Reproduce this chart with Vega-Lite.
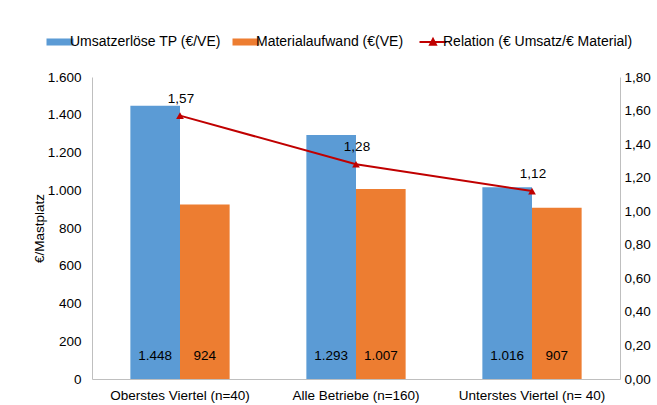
{
  "$schema": "https://vega.github.io/schema/vega-lite/v6.json",
  "autosize": {"type": "none"},
  "width": 528,
  "height": 302,
  "padding": {"left": 92, "top": 77, "right": 37, "bottom": 26},
  "background": "white",
  "config": {
    "locale": {"number": {"decimal": ",", "thousands": ".", "grouping": [3], "currency": ["", " €"]}},
    "font": "Liberation Sans",
    "view": {"stroke": null},
    "axis": {"labelFont": "Liberation Sans", "titleFont": "Liberation Sans", "labelFontSize": 13.5, "labelColor": "#000000", "domainColor": "#BFBFBF", "ticks": false, "grid": false, "labelOverlap": false}
  },
  "datasets": {
    "bars": [
      {"cat": "Oberstes Viertel (n=40)", "series": "Umsatzerlöse TP (€/VE)", "value": 1448},
      {"cat": "Oberstes Viertel (n=40)", "series": "Materialaufwand (€(VE)", "value": 924},
      {"cat": "Alle Betriebe (n=160)", "series": "Umsatzerlöse TP (€/VE)", "value": 1293},
      {"cat": "Alle Betriebe (n=160)", "series": "Materialaufwand (€(VE)", "value": 1007},
      {"cat": "Unterstes Viertel (n= 40)", "series": "Umsatzerlöse TP (€/VE)", "value": 1016},
      {"cat": "Unterstes Viertel (n= 40)", "series": "Materialaufwand (€(VE)", "value": 907}
    ],
    "line": [
      {"cat": "Oberstes Viertel (n=40)", "series": "Relation (€ Umsatz/€ Material)", "rel": 1.57},
      {"cat": "Alle Betriebe (n=160)", "series": "Relation (€ Umsatz/€ Material)", "rel": 1.28},
      {"cat": "Unterstes Viertel (n= 40)", "series": "Relation (€ Umsatz/€ Material)", "rel": 1.12}
    ]
  },
  "encoding": {
    "x": {
      "field": "cat", "type": "nominal", "sort": null,
      "scale": {"domain": ["Oberstes Viertel (n=40)", "Alle Betriebe (n=160)", "Unterstes Viertel (n= 40)"], "paddingInner": 0.436, "paddingOuter": 0.218},
      "axis": {"title": null, "labelAngle": 0, "labelPadding": 9, "domainColor": "#BFBFBF"}
    }
  },
  "layer": [
    {
      "data": {"name": "bars"},
      "encoding": {
        "xOffset": {"field": "series", "type": "nominal", "sort": null, "scale": {"domain": ["Umsatzerlöse TP (€/VE)", "Materialaufwand (€(VE)"], "paddingInner": 0, "paddingOuter": 0}},
        "y": {"field": "value", "type": "quantitative", "scale": {"domain": [0, 1600], "nice": false}, "axis": {"title": "€/Mastplatz", "titleFontSize": 13.5, "titleFontWeight": "normal", "titleColor": "#000000", "values": [0,200,400,600,800,1000,1200,1400,1600], "format": ",d", "labelPadding": 11, "titlePadding": 1, "domainColor": "#BFBFBF"}}
      },
      "layer": [
        {
          "mark": {"type": "bar"},
          "encoding": {
            "color": {
              "field": "series", "type": "nominal",
              "scale": {"domain": ["Umsatzerlöse TP (€/VE)", "Materialaufwand (€(VE)", "Relation (€ Umsatz/€ Material)"], "range": ["#5B9BD5", "#ED7D31", "#C00000"]},
              "legend": {
                "title": null, "orient": "none", "direction": "horizontal", "legendX": -39, "legendY": -42,
                "labelFont": "Liberation Sans", "labelFontSize": 14, "labelColor": "#000000", "labelLimit": 300,
                "symbolSize": 729, "symbolType": "M-1,-0.26H1V0.26H-1Z", "labelOffset": 3, "columnPadding": 11,
                "encode": {"symbols": {"update": {
                  "shape": {"signal": "datum.value === 'Relation (€ Umsatz/€ Material)' ? 'M-1,0H1M-0.22,0.2L0,-0.22L0.22,0.2Z' : 'M-1,-0.26H1V0.26H-1Z'"},
                  "strokeWidth": {"signal": "datum.value === 'Relation (€ Umsatz/€ Material)' ? 2 : 0"},
                  "stroke": {"signal": "datum.value === 'Relation (€ Umsatz/€ Material)' ? '#C00000' : 'transparent'"},
                  "fill": {"signal": "datum.value === 'Relation (€ Umsatz/€ Material)' ? '#C00000' : (datum.value === 'Materialaufwand (€(VE)' ? '#ED7D31' : '#5B9BD5')"},
                  "opacity": {"value": 1}
                }}}
              }
            }
          }
        },
        {
          "mark": {"type": "text", "fontSize": 13.5, "color": "#000000", "baseline": "middle", "dy": -23},
          "encoding": {
            "y": {"datum": 0},
            "text": {"field": "value", "type": "quantitative", "format": ",d"}
          }
        }
      ]
    },
    {
      "data": {"name": "line"},
      "encoding": {
        "y": {"field": "rel", "type": "quantitative", "scale": {"domain": [0, 1.8], "nice": false}, "axis": {"orient": "right", "title": null, "values": [0,0.2,0.4,0.6,0.8,1.0,1.2,1.4,1.6,1.8], "format": ".2f", "labelPadding": 4, "domainColor": "#BFBFBF"}}
      },
      "layer": [
        {
          "mark": {"type": "line", "color": "#C00000", "strokeWidth": 2},
          "encoding": {"color": {"field": "series", "type": "nominal", "legend": null}}
        },
        {
          "mark": {"type": "point", "shape": "triangle-up", "filled": true, "size": 60, "color": "#C00000", "opacity": 1},
          "encoding": {}
        },
        {
          "mark": {"type": "text", "fontSize": 13.5, "color": "#000000", "dy": -17, "dx": 1, "baseline": "middle"},
          "encoding": {"text": {"field": "rel", "type": "quantitative", "format": ".2f"}}
        }
      ]
    }
  ],
  "resolve": {"scale": {"y": "independent"}}
}
